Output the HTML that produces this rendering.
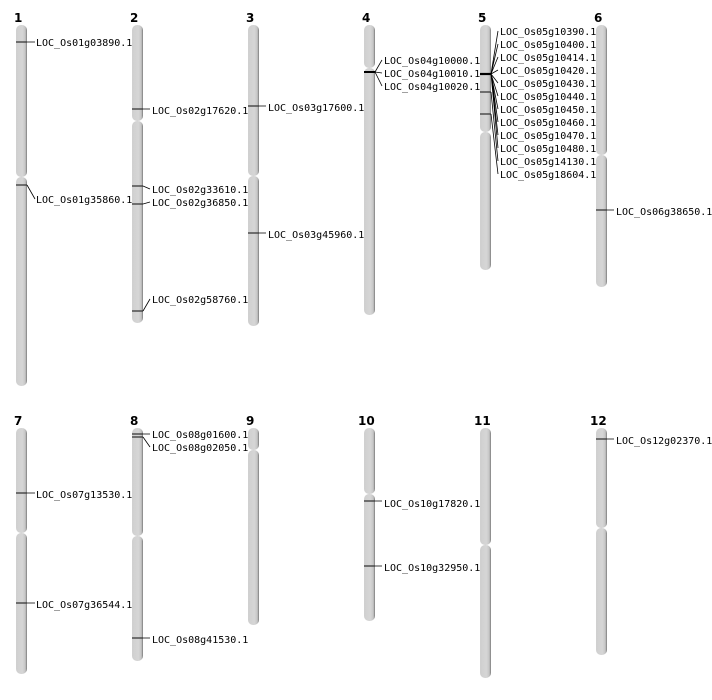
<!DOCTYPE html>
<html><head><meta charset="utf-8"><style>
html,body{margin:0;padding:0;background:#fff;}
svg{display:block;}
text{font-family:"DejaVu Sans Mono","Liberation Mono",monospace;font-size:10px;fill:#000;}
.n{font-family:"DejaVu Sans","Liberation Sans",sans-serif;font-weight:bold;font-size:12px;}
.m{stroke:#333;stroke-width:1.3;fill:none;}
.c{stroke:#000;stroke-width:0.8;fill:none;}
</style></head><body>
<svg width="712" height="700" viewBox="0 0 712 700" xmlns="http://www.w3.org/2000/svg">
<defs>
<linearGradient id="g" x1="0" x2="1" y1="0" y2="0">
<stop offset="0" stop-color="#cfcfcf"/><stop offset="0.6" stop-color="#d6d6d6"/><stop offset="0.85" stop-color="#c4c4c4"/><stop offset="1" stop-color="#7a7a7a"/>
</linearGradient>
</defs>
<g fill="url(#g)">
<!-- chr1 -->
<rect x="16" y="25" width="11" height="152" rx="5"/><rect x="16" y="177" width="11" height="209" rx="5"/>
<rect x="132" y="25" width="11" height="96" rx="5"/><rect x="132" y="121" width="11" height="202" rx="5"/>
<rect x="248" y="25" width="11" height="151" rx="5"/><rect x="248" y="176" width="11" height="150" rx="5"/>
<rect x="364" y="25" width="11" height="43" rx="5"/><rect x="364" y="68" width="11" height="247" rx="5"/>
<rect x="480" y="25" width="11" height="107" rx="5"/><rect x="480" y="132" width="11" height="138" rx="5"/>
<rect x="596" y="25" width="11" height="130" rx="5"/><rect x="596" y="155" width="11" height="132" rx="5"/>
<rect x="16" y="428" width="11" height="105" rx="5"/><rect x="16" y="533" width="11" height="141" rx="5"/>
<rect x="132" y="428" width="11" height="108" rx="5"/><rect x="132" y="536" width="11" height="125" rx="5"/>
<rect x="248" y="428" width="11" height="22" rx="5"/><rect x="248" y="450" width="11" height="175" rx="5"/>
<rect x="364" y="428" width="11" height="66" rx="5"/><rect x="364" y="494" width="11" height="127" rx="5"/>
<rect x="480" y="428" width="11" height="117" rx="5"/><rect x="480" y="545" width="11" height="133" rx="5"/>
<rect x="596" y="428" width="11" height="100" rx="5"/><rect x="596" y="528" width="11" height="127" rx="5"/>
</g>
<g class="n">
<text class="n" x="14" y="22">1</text><text class="n" x="130" y="22">2</text><text class="n" x="246" y="22">3</text>
<text class="n" x="362" y="22">4</text><text class="n" x="478" y="22">5</text><text class="n" x="594" y="22">6</text>
<text class="n" x="14" y="425">7</text><text class="n" x="130" y="425">8</text><text class="n" x="246" y="425">9</text>
<text class="n" x="358" y="425">10</text><text class="n" x="474" y="425">11</text><text class="n" x="590" y="425">12</text>
</g>
<!-- markers -->
<g class="m">
<path d="M16 42H27M16 185H27M132 109H143M132 186H143M132 204H143M132 311H143M248 106H259M248 233H259M364 72H375M480 92H491M480 114H491M596 210H607M16 493H27M16 603H27M132 434H143M132 437H143M132 638H143M364 501H375M364 566H375M596 439H607"/>
<path d="M480 74H491" stroke-width="2.2" stroke="#000"/>
<path d="M364 72H375" stroke-width="2" stroke="#000"/>
</g>
<g class="c">
<path d="M27 42H35M27 185L35 199M143 109H150M143 186L150 189M143 204L150 202M143 311L150 299M259 106H266M259 233H266M375 72L382 60M375 72L382 73M375 72L382 86M607 210H614M27 493H35M27 603H35M143 434L150 434M143 437L150 447M143 638H150M375 501H382M375 566H382M607 439H614"/>
<path d="M491 74L498 31M491 74L498 44M491 74L498 57M491 74L498 70M491 74L498 83M491 74L498 96M491 74L498 109M491 74L498 122M491 74L498 135M491 74L498 148M491 92L498 161M491 114L498 174"/>
</g>
<g>
<text x="36" y="46">LOC_Os01g03890.1</text>
<text x="36" y="203">LOC_Os01g35860.1</text>
<text x="152" y="114">LOC_Os02g17620.1</text>
<text x="152" y="193">LOC_Os02g33610.1</text>
<text x="152" y="206">LOC_Os02g36850.1</text>
<text x="152" y="303">LOC_Os02g58760.1</text>
<text x="268" y="111">LOC_Os03g17600.1</text>
<text x="268" y="238">LOC_Os03g45960.1</text>
<text x="384" y="64">LOC_Os04g10000.1</text>
<text x="384" y="77">LOC_Os04g10010.1</text>
<text x="384" y="90">LOC_Os04g10020.1</text>
<text x="500" y="35">LOC_Os05g10390.1</text>
<text x="500" y="48">LOC_Os05g10400.1</text>
<text x="500" y="61">LOC_Os05g10414.1</text>
<text x="500" y="74">LOC_Os05g10420.1</text>
<text x="500" y="87">LOC_Os05g10430.1</text>
<text x="500" y="100">LOC_Os05g10440.1</text>
<text x="500" y="113">LOC_Os05g10450.1</text>
<text x="500" y="126">LOC_Os05g10460.1</text>
<text x="500" y="139">LOC_Os05g10470.1</text>
<text x="500" y="152">LOC_Os05g10480.1</text>
<text x="500" y="165">LOC_Os05g14130.1</text>
<text x="500" y="178">LOC_Os05g18604.1</text>
<text x="616" y="215">LOC_Os06g38650.1</text>
<text x="36" y="498">LOC_Os07g13530.1</text>
<text x="36" y="608">LOC_Os07g36544.1</text>
<text x="152" y="438">LOC_Os08g01600.1</text>
<text x="152" y="451">LOC_Os08g02050.1</text>
<text x="152" y="643">LOC_Os08g41530.1</text>
<text x="384" y="507">LOC_Os10g17820.1</text>
<text x="384" y="571">LOC_Os10g32950.1</text>
<text x="616" y="444">LOC_Os12g02370.1</text>
</g>
</svg>
</body></html>
